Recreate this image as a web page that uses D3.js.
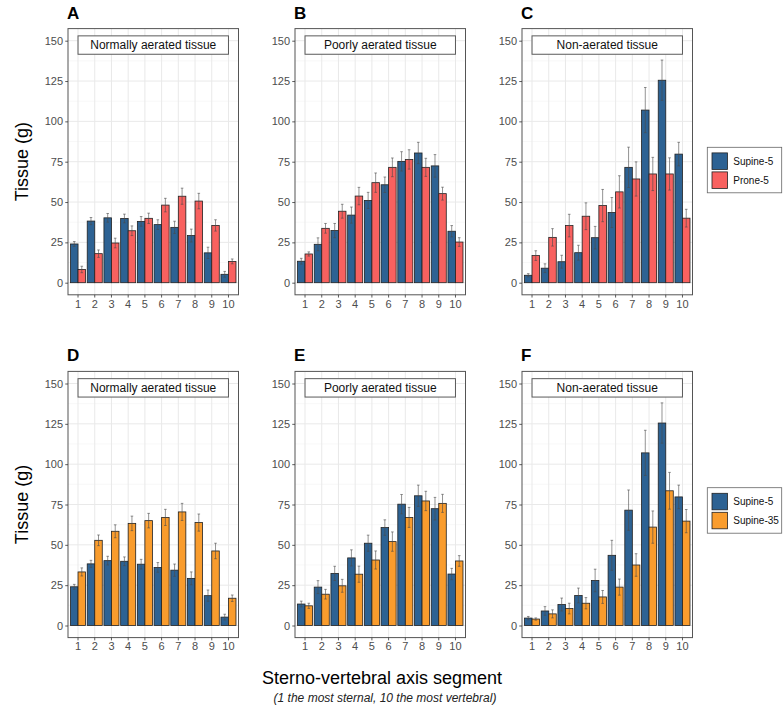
<!DOCTYPE html>
<html><head><meta charset="utf-8">
<script src="https://cdn.jsdelivr.net/npm/d3@7"></script>
<style>
body{margin:0;background:#fff}
svg{display:block}
text{font-family:"Liberation Sans",Arial,Helvetica,sans-serif}
.tick text{fill:#4d4d4d}
</style>
</head><body>
<svg id="chart" width="783" height="707"></svg>
<script>
// ---------------- DATA ----------------
const segments = [1,2,3,4,5,6,7,8,9,10];
const yTicks = [0,25,50,75,100,125,150];
const seriesNames = ["Supine-5","Prone-5","Supine-35"];
const panelLetters = ["A","B","C","D","E","F"];
const tissueLabels = ["Normally aerated tissue","Poorly aerated tissue","Non-aerated tissue"];

const normSupine5     = [24.0, 38.2, 40.2, 39.8, 38.0, 36.0, 34.3, 29.2, 18.5, 5.2];
const normSupine5Err  = [1.5, 2.2, 2.7, 2.7, 3.0, 3.0, 3.8, 4.0, 3.5, 1.8];
const normProne5      = [8.2, 18.0, 24.6, 32.2, 39.9, 48.1, 53.6, 50.6, 35.5, 13.2];
const normProne5Err   = [2.0, 2.3, 3.0, 3.0, 3.2, 4.2, 5.0, 4.8, 3.5, 1.5];
const normSupine35    = [33.2, 52.8, 58.4, 63.3, 65.0, 67.0, 70.4, 63.8, 46.2, 16.9];
const normSupine35Err = [2.5, 3.3, 4.0, 4.5, 4.5, 5.0, 5.3, 5.3, 4.8, 2.0];

const poorSupine5     = [13.3, 23.8, 32.3, 41.9, 51.0, 60.7, 75.2, 80.4, 72.4, 31.9];
const poorSupine5Err  = [1.8, 4.0, 4.4, 5.0, 5.0, 4.8, 6.0, 6.6, 7.0, 3.5];
const poorProne5      = [17.8, 33.7, 44.3, 53.7, 62.0, 71.5, 76.4, 71.5, 55.2, 25.2];
const poorProne5Err   = [1.3, 3.0, 4.3, 5.4, 6.0, 5.8, 6.0, 5.6, 4.0, 2.7];
const poorSupine35    = [12.2, 19.4, 24.6, 31.8, 40.6, 52.0, 67.0, 77.2, 75.7, 40.0];
const poorSupine35Err = [1.6, 3.0, 4.0, 5.0, 5.6, 6.0, 6.2, 6.0, 5.6, 3.3];

const nonSupine5      = [4.6, 9.0, 13.0, 18.6, 27.9, 43.5, 71.5, 107.0, 125.5, 79.7];
const nonSupine5Err   = [1.0, 2.7, 4.0, 4.6, 7.0, 9.3, 12.5, 14.0, 12.5, 7.3];
const nonProne5       = [16.8, 28.1, 35.4, 41.2, 47.8, 56.3, 64.3, 67.4, 67.4, 40.0];
const nonProne5Err    = [3.0, 5.4, 7.0, 8.3, 10.0, 10.0, 10.6, 10.3, 10.0, 5.5];
const nonSupine35     = [4.0, 7.2, 10.5, 13.8, 17.7, 23.8, 37.5, 61.0, 83.5, 64.7];
const nonSupine35Err  = [0.7, 2.5, 3.3, 3.5, 4.0, 5.0, 7.0, 10.0, 11.4, 7.2];

// ---------------- STYLE / LAYOUT ----------------
const colors = {"Supine-5":"#2d6293","Prone-5":"#f8615f","Supine-35":"#f99c2d"};
const colLefts = [68, 295, 522];
const rowTops = [28.6, 371.4];
const panelW = 170.5, panelH = 266.2;

const svg = d3.select("#chart");

const panels = [
  {row:0,col:0,s:[normSupine5,normProne5],e:[normSupine5Err,normProne5Err],n:["Supine-5","Prone-5"]},
  {row:0,col:1,s:[poorSupine5,poorProne5],e:[poorSupine5Err,poorProne5Err],n:["Supine-5","Prone-5"]},
  {row:0,col:2,s:[nonSupine5,nonProne5],e:[nonSupine5Err,nonProne5Err],n:["Supine-5","Prone-5"]},
  {row:1,col:0,s:[normSupine5,normSupine35],e:[normSupine5Err,normSupine35Err],n:["Supine-5","Supine-35"]},
  {row:1,col:1,s:[poorSupine5,poorSupine35],e:[poorSupine5Err,poorSupine35Err],n:["Supine-5","Supine-35"]},
  {row:1,col:2,s:[nonSupine5,nonSupine35],e:[nonSupine5Err,nonSupine35Err],n:["Supine-5","Supine-35"]}
];

panels.forEach((p, idx) => {
  const left = colLefts[p.col], top = rowTops[p.row];
  const x = d3.scaleBand().domain(segments).range([left, left+panelW]).paddingInner(0.1).paddingOuter(0.15);
  const xs = d3.scaleBand().domain([0,1]).range([0, x.bandwidth()]);
  const y = d3.scaleLinear().domain([-7.5, 157.5]).range([top+panelH, top]);
  const g = svg.append("g");

  g.append("rect").attr("x",left).attr("y",top).attr("width",panelW).attr("height",panelH).attr("fill","#fff");
  const minor = d3.range(12.5, 150, 25);
  g.selectAll(".mn").data(minor).join("line")
    .attr("x1",left).attr("x2",left+panelW).attr("y1",d=>y(d)).attr("y2",d=>y(d))
    .attr("stroke","#f3f3f3").attr("stroke-width",0.6);
  g.selectAll(".mj").data(yTicks).join("line")
    .attr("x1",left).attr("x2",left+panelW).attr("y1",d=>y(d)).attr("y2",d=>y(d))
    .attr("stroke","#e9e9e9").attr("stroke-width",1);
  g.selectAll(".vx").data(segments).join("line")
    .attr("x1",d=>x(d)+x.bandwidth()/2).attr("x2",d=>x(d)+x.bandwidth()/2)
    .attr("y1",top).attr("y2",top+panelH)
    .attr("stroke","#e9e9e9").attr("stroke-width",1);

  const bx0 = x(1)+x.bandwidth()/2, bx1 = x(10)+x.bandwidth()/2;
  g.append("rect").attr("x",bx0).attr("y",y(153)).attr("width",bx1-bx0).attr("height",y(141.6)-y(153))
    .attr("fill","#fff").attr("stroke","#5a5a5a").attr("stroke-width",1);
  g.append("text").attr("x",(bx0+bx1)/2).attr("y",(y(153)+y(141.6))/2).attr("dy","0.36em")
    .attr("text-anchor","middle").attr("font-size",12).attr("fill","#111")
    .text(tissueLabels[p.col]);

  [0,1].forEach(k => {
    const vals = p.s[k], errs = p.e[k], name = p.n[k];
    const data = segments.map((s,i)=>({s, v:vals[i], e:errs[i]}));
    g.selectAll(".b"+k).data(data).join("rect")
      .attr("x",d=>x(d.s)+xs(k)).attr("width",xs.bandwidth())
      .attr("y",d=>y(d.v)).attr("height",d=>y(0)-y(d.v))
      .attr("fill",colors[name]).attr("stroke","#222").attr("stroke-width",0.8);
    const cx = d => x(d.s)+xs(k)+xs.bandwidth()/2;
    const eb = g.selectAll(".e"+k).data(data).join("g")
      .attr("stroke","#4a4a4a").attr("stroke-width",0.6);
    eb.append("line").attr("x1",cx).attr("x2",cx)
      .attr("y1",d=>y(d.v-d.e)).attr("y2",d=>y(d.v+d.e));
    eb.append("line").attr("x1",d=>cx(d)-1.3).attr("x2",d=>cx(d)+1.3)
      .attr("y1",d=>y(d.v+d.e)).attr("y2",d=>y(d.v+d.e));
    eb.append("line").attr("x1",d=>cx(d)-1.3).attr("x2",d=>cx(d)+1.3)
      .attr("y1",d=>y(d.v-d.e)).attr("y2",d=>y(d.v-d.e));
  });

  g.append("rect").attr("x",left).attr("y",top).attr("width",panelW).attr("height",panelH)
    .attr("fill","none").attr("stroke","#555").attr("stroke-width",1);

  const ya = g.append("g").attr("transform",`translate(${left},0)`)
    .call(d3.axisLeft(y).tickValues(yTicks).tickSize(2.75).tickPadding(2.2));
  const xa = g.append("g").attr("transform",`translate(0,${top+panelH})`)
    .call(d3.axisBottom(x).tickValues(segments).tickSize(2.75).tickPadding(2.2));
  [ya, xa].forEach(a => {
    a.attr("fill","#4d4d4d").attr("font-size",11).attr("font-family","'Liberation Sans',Arial,sans-serif");
    a.select(".domain").remove();
    a.selectAll(".tick line").attr("stroke","#333").attr("stroke-width",0.8);
    a.selectAll(".tick text").attr("fill","#4d4d4d").style("fill","#4d4d4d").attr("font-size",11);
  });

  g.append("text").attr("x",left-1).attr("y",top-10).attr("font-size",17).attr("font-weight","bold")
    .attr("fill","#000").text(panelLetters[idx]);
});

rowTops.forEach(t => {
  svg.append("text").attr("transform",`translate(28,${t+panelH/2}) rotate(-90)`)
    .attr("text-anchor","middle").attr("font-size",18).attr("fill","#000").text("Tissue (g)");
});

svg.append("text").attr("x",382).attr("y",684).attr("text-anchor","middle").attr("font-size",18)
  .attr("fill","#000").text("Sterno-vertebral axis segment");
svg.append("text").attr("x",385).attr("y",702).attr("text-anchor","middle").attr("font-size",12)
  .attr("font-style","italic").attr("fill","#222").text("(1 the most sternal, 10 the most vertebral)");

const legends = [
  {top:147.3, names:["Supine-5","Prone-5"]},
  {top:487.7, names:["Supine-5","Supine-35"]}
];
legends.forEach(L => {
  const lg = svg.append("g");
  lg.append("rect").attr("x",707.3).attr("y",L.top).attr("width",74.4).attr("height",45.5)
    .attr("fill","#fff").attr("stroke","#666").attr("stroke-width",0.8);
  L.names.forEach((nm,i) => {
    const ky = L.top + 5.6 + i*19;
    lg.append("rect").attr("x",712).attr("y",ky).attr("width",15.5).attr("height",16.5)
      .attr("fill",colors[nm]).attr("stroke","#222").attr("stroke-width",0.8);
    lg.append("text").attr("x",733.3).attr("y",ky+8.3).attr("dy","0.36em").attr("font-size",10)
      .attr("fill","#111").text(nm);
  });
});
</script>
</body></html>
